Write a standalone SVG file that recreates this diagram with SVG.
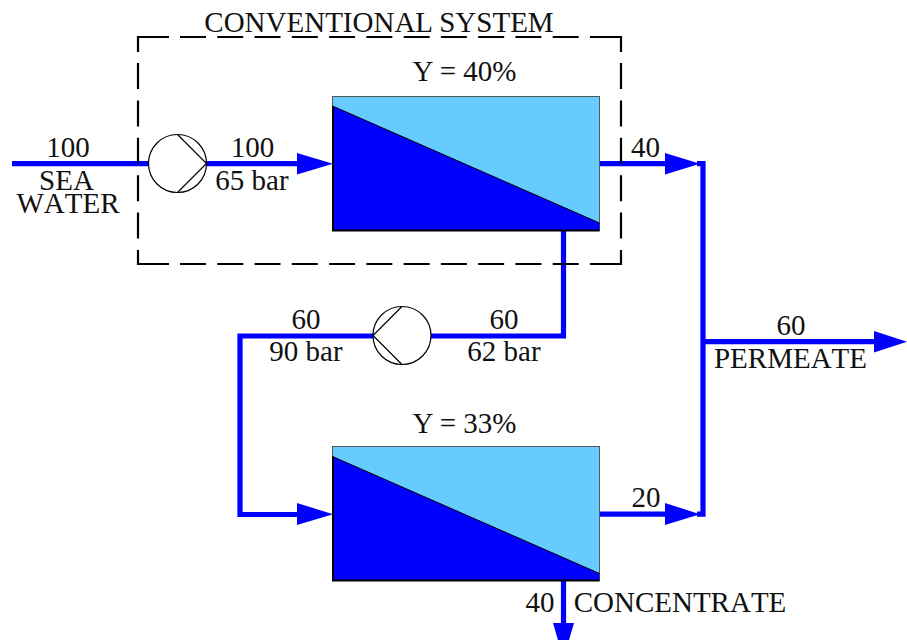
<svg xmlns="http://www.w3.org/2000/svg" width="907" height="640" viewBox="0 0 907 640">
<style>
text{font-family:"Liberation Serif","Times New Roman",serif;font-size:29px;fill:#111;text-anchor:middle}
.nokern{font-kerning:none}
.pipe{fill:none;stroke:#0000ff;stroke-width:5.2;stroke-linejoin:miter}
.head{fill:#0000ff}
.pump{fill:#fff;stroke:#000;stroke-width:1.2}
.dash{fill:none;stroke:#000;stroke-width:2.2}
.dh{stroke-dasharray:26 11.27}
.dv{stroke-dasharray:26 11.4}
.light{fill:#66ccff;stroke:#555;stroke-width:1}
.dark{fill:#0000ff;stroke:none}
.edge{fill:none;stroke:#000;stroke-width:1}
.thick{fill:none;stroke:#000;stroke-width:2}
</style>
<rect width="907" height="640" fill="#fff"/>
<g id="connectors">
<path class="pipe" d="M12 163.700H150"/>
<path class="pipe" d="M206 163.700H300"/>
<polygon class="head" points="297,153 333,163.700 297,174.500"/>
<path class="pipe" d="M600 163.700H668"/>
<polygon class="head" points="665,153 700,163.700 665,174.500"/>
<path class="pipe" d="M697 163.700H703V514.200H697"/>
<path class="pipe" d="M703 341.700H875"/>
<polygon class="head" points="874,331 907,341.700 874,352.500"/>
<path class="pipe" d="M563.500 230V336H430"/>
<path class="pipe" d="M374 336H240V514.500H300"/>
<polygon class="head" points="297,503 333,514.200 297,525"/>
<path class="pipe" d="M600 514.200H668"/>
<polygon class="head" points="665,503 700,514.200 665,525"/>
<path class="pipe" d="M563.500 581V625"/>
<polygon class="head" points="553,623 574,623 563.500,659"/>
</g>
<g id="conventional-system">
<path class="dash" d="M138 52V37H169M590 37H621V52M138 250V264H169M590 264H621V250"/>
<path class="dash dh" d="M180 37H590M180 264H590"/>
<path class="dash dv" d="M138 63V250M621 63V250"/>
<text x="379" y="31.500">CONVENTIONAL SYSTEM</text>
</g>
<g id="pump-1">
<circle class="pump" cx="177.500" cy="163.500" r="29"/>
<path class="pump" d="M177.500 134.500L206.500 163.500L177.500 192.500"/>
</g>
<g id="pump-2">
<circle class="pump" cx="402" cy="335.500" r="29"/>
<path class="pump" d="M402 306.500L373 335.500L402 364.500"/>
</g>
<g id="membrane-1">
<rect class="light" x="332.500" y="96.500" width="267" height="134"/>
<polygon class="dark" points="332.500,106 599.500,223 599.500,230.500 332.500,230.500"/>
<path class="edge" d="M332.500 106L599.500 223"/>
<path class="thick" d="M333 106V230.500H599.500"/>
<text x="464.500" y="81">Y = 40%</text>
</g>
<g id="membrane-2">
<rect class="light" x="332.500" y="446.500" width="267" height="134"/>
<polygon class="dark" points="332.500,456.500 599.500,573.500 599.500,580.500 332.500,580.500"/>
<path class="edge" d="M332.500 456.500L599.500 573.500"/>
<path class="thick" d="M333 456.500V580.500H599.500"/>
<text x="464.500" y="432.500">Y = 33%</text>
</g>
<g id="labels">
<text x="68" y="157">100</text>
<text x="66.500" y="190">SEA</text>
<text class="nokern" x="68" y="212.500">WATER</text>
<text x="252.500" y="157">100</text>
<text x="252" y="190">65 bar</text>
<text x="645.500" y="157">40</text>
<text x="791" y="335">60</text>
<text class="nokern" x="790.500" y="367.500">PERMEATE</text>
<text x="306" y="329">60</text>
<text x="306" y="361">90 bar</text>
<text x="504" y="329">60</text>
<text x="504" y="361">62 bar</text>
<text x="646" y="506.500">20</text>
<text x="540" y="612">40</text>
<text class="nokern" x="680" y="612">CONCENTRATE</text>
</g>
</svg>
